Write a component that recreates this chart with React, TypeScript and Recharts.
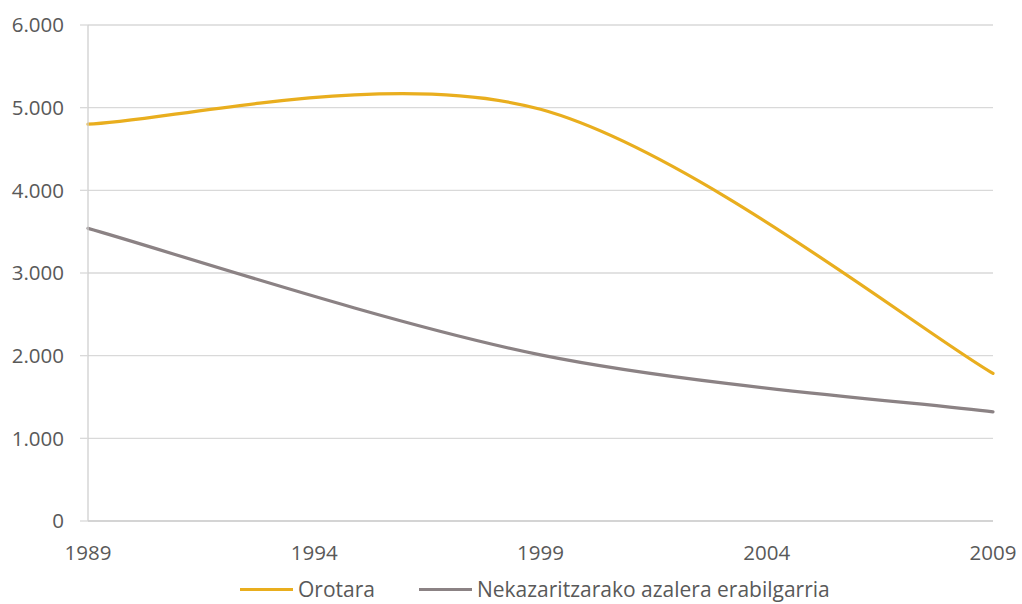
import React from "react";
import { LineChart, Line, XAxis, YAxis, CartesianGrid, Legend } from "recharts";

const years = [1989, 1999, 2009];
const orotara = [4800, 4980, 1785];
const nekazaritza = [3540, 2010, 1320];
const xTicks = [1989, 1994, 1999, 2004, 2009];
const yTicks = [0, 1000, 2000, 3000, 4000, 5000, 6000];

const seriesNames = ["Orotara", "Nekazaritzarako azalera erabilgarria"];
const seriesColors = ["#E9AE1E", "#8B8284"];

const data = years.map((y, i) => ({ year: y, orotara: orotara[i], nekazaritza: nekazaritza[i] }));

const FONT = "'Open Sans', sans-serif";
const TEXT = "#595959";

// Excel-like smoothed curve (Catmull-Rom as cubic Bezier)
const excelCurve: any = (context: any) => {
  let pts: number[][] = [];
  return {
    areaStart() {},
    areaEnd() {},
    lineStart() {
      pts = [];
    },
    lineEnd() {
      const n = pts.length;
      if (n === 0) return;
      context.moveTo(pts[0][0], pts[0][1]);
      if (n === 1) {
        context.lineTo(pts[0][0], pts[0][1]);
        return;
      }
      for (let i = 0; i < n - 1; i++) {
        const p0 = pts[Math.max(i - 1, 0)];
        const p1 = pts[i];
        const p2 = pts[i + 1];
        const p3 = pts[Math.min(i + 2, n - 1)];
        const c1x = p1[0] + (p2[0] - p0[0]) / 6;
        const c1y = p1[1] + (p2[1] - p0[1]) / 6;
        const c2x = p2[0] - (p3[0] - p1[0]) / 6;
        const c2y = p2[1] - (p3[1] - p1[1]) / 6;
        context.bezierCurveTo(c1x, c1y, c2x, c2y, p2[0], p2[1]);
      }
    },
    point(x: number, y: number) {
      pts.push([+x, +y]);
    },
  };
};

const fmt = (v: number) => String(v).replace(/\B(?=(\d{3})+(?!\d))/g, ".");

const LegendContent = () => (
  <div
    style={{
      height: 26,
      display: "flex",
      alignItems: "center",
      paddingLeft: 240,
      fontFamily: FONT,
      fontSize: 21,
      color: TEXT,
      whiteSpace: "nowrap",
    }}
  >
    {seriesNames.map((name, i) => (
      <div key={name} style={{ display: "flex", alignItems: "center", marginRight: 44 }}>
        <span style={{ display: "inline-block", width: 53, height: 3, background: seriesColors[i], marginRight: 5 }} />
        <span style={{ lineHeight: "26px" }}>{name}</span>
      </div>
    ))}
  </div>
);

export default function App() {
  return (
    <div style={{ position: "absolute", left: 0, top: 0, width: 1022, height: 604, background: "#fff" }}>
      <LineChart width={1022} height={604} data={data} margin={{ top: 25, right: 29, left: 0, bottom: 2 }}>
        <CartesianGrid vertical={false} stroke="#D9D9D9" strokeWidth={1.3} />
        <XAxis
          dataKey="year"
          type="number"
          domain={[1989, 2009]}
          ticks={xTicks}
          height={55}
          tickLine={false}
          tickSize={0}
          tickMargin={24}
          axisLine={{ stroke: "#CFCFCF", strokeWidth: 1.3 }}
          tick={{ fill: TEXT, fontFamily: FONT, fontSize: 20.5 }}
          allowDecimals={false}
        />
        <YAxis
          domain={[0, 6000]}
          ticks={yTicks}
          width={88}
          tickSize={8}
          tickMargin={16}
          tickLine={{ stroke: "#D9D9D9", strokeWidth: 1.3 }}
          axisLine={{ stroke: "#CFCFCF", strokeWidth: 1.3 }}
          tickFormatter={fmt}
          tick={{ fill: TEXT, fontFamily: FONT, fontSize: 20.5 }}
        />
        <Legend verticalAlign="bottom" align="left" content={<LegendContent />} />
        <Line
          dataKey="orotara"
          name={seriesNames[0]}
          type={excelCurve}
          stroke={seriesColors[0]}
          strokeWidth={3.2}
          strokeLinecap="round"
          dot={false}
          activeDot={false}
          isAnimationActive={false}
        />
        <Line
          dataKey="nekazaritza"
          name={seriesNames[1]}
          type={excelCurve}
          stroke={seriesColors[1]}
          strokeWidth={3.2}
          strokeLinecap="round"
          dot={false}
          activeDot={false}
          isAnimationActive={false}
        />
      </LineChart>
    </div>
  );
}
